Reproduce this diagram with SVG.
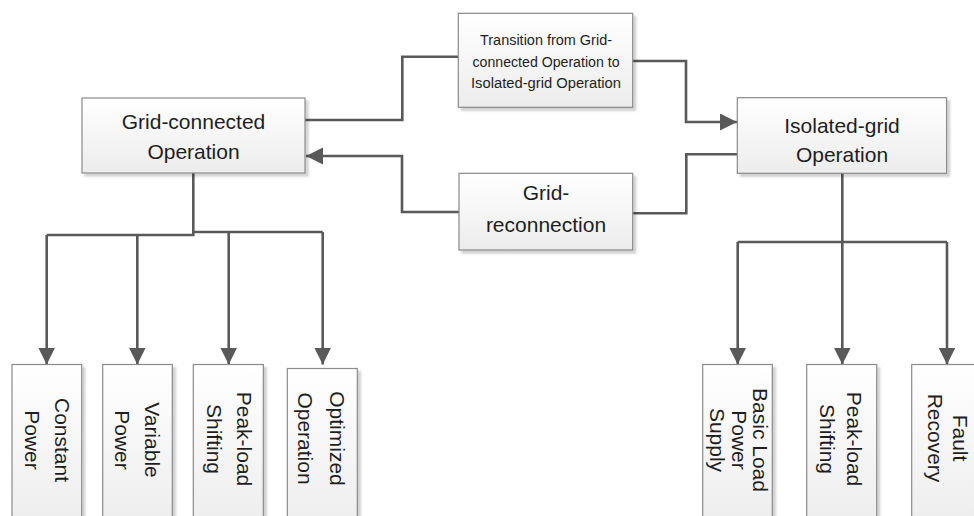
<svg xmlns="http://www.w3.org/2000/svg" width="974" height="516" viewBox="0 0 974 516">
<defs>
<linearGradient id="boxfill" x1="0" y1="0" x2="0" y2="1">
<stop offset="0" stop-color="#ffffff"/>
<stop offset="1" stop-color="#ececec"/>
</linearGradient>
<filter id="shadow" x="-10%" y="-10%" width="130%" height="130%">
<feDropShadow dx="3" dy="3" stdDeviation="1.2" flood-color="#000000" flood-opacity="0.18"/>
</filter>
<marker id="arrow" markerUnits="userSpaceOnUse" markerWidth="18" markerHeight="18" refX="17" refY="8.5" orient="auto">
<path d="M0,0 L17,8.5 L0,17 Z" fill="#595959"/>
</marker>
</defs>
<style>
.box { fill: url(#boxfill); stroke: #8a8a8a; stroke-width: 1.2; filter: url(#shadow); }
.lbl { font-family: "Liberation Sans", Arial, sans-serif; font-size: 21px; fill: #1e1e1e; text-anchor: middle; }
.small { font-family: "Liberation Sans", Arial, sans-serif; font-size: 15.5px; fill: #1e1e1e; text-anchor: middle; }
.conn { fill: none; stroke: #595959; stroke-width: 2.6; }
.arr { marker-end: url(#arrow); }
</style>
<rect width="974" height="516" fill="#ffffff"/>

<g id="connectors">
<path class="conn" d="M305,120 H402.3 V56.7 H458"/>
<path class="conn arr" d="M633,61 H686 V122 H737"/>
<path class="conn" d="M737,154.3 H686.3 V213.3 H633"/>
<path class="conn arr" d="M459,212 H402 V156 H306"/>
<path class="conn" d="M193.3,173 V235 H46.7"/>
<path class="conn" d="M193.3,232 H322.7"/>
<path class="conn arr" d="M46.7,235 V364.5"/>
<path class="conn arr" d="M137.3,235 V364.5"/>
<path class="conn arr" d="M228.7,232 V364.5"/>
<path class="conn arr" d="M322.7,232 V364.5"/>
<path class="conn" d="M842.3,173 V242"/>
<path class="conn" d="M737.7,242 H947"/>
<path class="conn arr" d="M737.7,242 V364.5"/>
<path class="conn arr" d="M842.3,242 V364.5"/>
<path class="conn arr" d="M947,242 V364.5"/>
</g>

<g id="grid-connected">
<rect class="box" x="82" y="98" width="223" height="75"/>
<text class="lbl" x="193.5" y="129.3">Grid-connected</text>
<text class="lbl" x="193.5" y="159.3">Operation</text>
</g>

<g id="transition">
<rect class="box" x="458.3" y="13.3" width="174.4" height="94"/>
<text class="small" x="546" y="45" textLength="132" lengthAdjust="spacingAndGlyphs">Transition from Grid-</text>
<text class="small" x="546" y="66.7" textLength="147" lengthAdjust="spacingAndGlyphs">connected Operation to</text>
<text class="small" x="546" y="87.7" textLength="150" lengthAdjust="spacingAndGlyphs">Isolated-grid Operation</text>
</g>

<g id="grid-reconnection">
<rect class="box" x="459" y="173.3" width="173.7" height="76.7"/>
<text class="lbl" x="546" y="200">Grid-</text>
<text class="lbl" x="546" y="232">reconnection</text>
</g>

<g id="isolated-grid">
<rect class="box" x="737.3" y="97.7" width="209.3" height="75.6"/>
<text class="lbl" x="842" y="133.3">Isolated-grid</text>
<text class="lbl" x="842" y="161.7">Operation</text>
</g>

<g id="constant-power">
<rect class="box" x="12" y="364.5" width="69.7" height="170"/>
<g transform="translate(46.8,440) rotate(90)">
<text class="lbl" x="0" y="-8.2">Constant</text>
<text class="lbl" x="0" y="21.8">Power</text>
</g>
</g>

<g id="variable-power">
<rect class="box" x="102.7" y="364.5" width="69.6" height="170"/>
<g transform="translate(137.5,440) rotate(90)">
<text class="lbl" x="0" y="-7.5">Variable</text>
<text class="lbl" x="0" y="22.5">Power</text>
</g>
</g>

<g id="peak-load-shifting-1">
<rect class="box" x="193.3" y="364.5" width="70" height="170"/>
<g transform="translate(228.3,439) rotate(90)">
<text class="lbl" x="0" y="-8.4">Peak-load</text>
<text class="lbl" x="0" y="21.6">Shifting</text>
</g>
</g>

<g id="optimized-operation">
<rect class="box" x="287.3" y="368.5" width="70" height="170"/>
<g transform="translate(322.3,438.5) rotate(90)">
<text class="lbl" x="0" y="-7.7">Optimized</text>
<text class="lbl" x="0" y="24">Operation</text>
</g>
</g>

<g id="basic-load-power-supply">
<rect class="box" x="702.7" y="364.5" width="69.6" height="170"/>
<g transform="translate(737.5,440) rotate(90)">
<text class="lbl" x="0" y="-15.8">Basic Load</text>
<text class="lbl" x="0" y="5.8">Power</text>
<text class="lbl" x="0" y="27.5">Supply</text>
</g>
</g>

<g id="peak-load-shifting-2">
<rect class="box" x="806.7" y="364.5" width="70" height="170"/>
<g transform="translate(841.7,439) rotate(90)">
<text class="lbl" x="0" y="-5">Peak-load</text>
<text class="lbl" x="0" y="21.7">Shifting</text>
</g>
</g>

<g id="fault-recovery">
<rect class="box" x="911.7" y="364.5" width="70" height="170"/>
<g transform="translate(946.7,438) rotate(90)">
<text class="lbl" x="0" y="-6.6">Fault</text>
<text class="lbl" x="0" y="18.7">Recovery</text>
</g>
</g>
</svg>
